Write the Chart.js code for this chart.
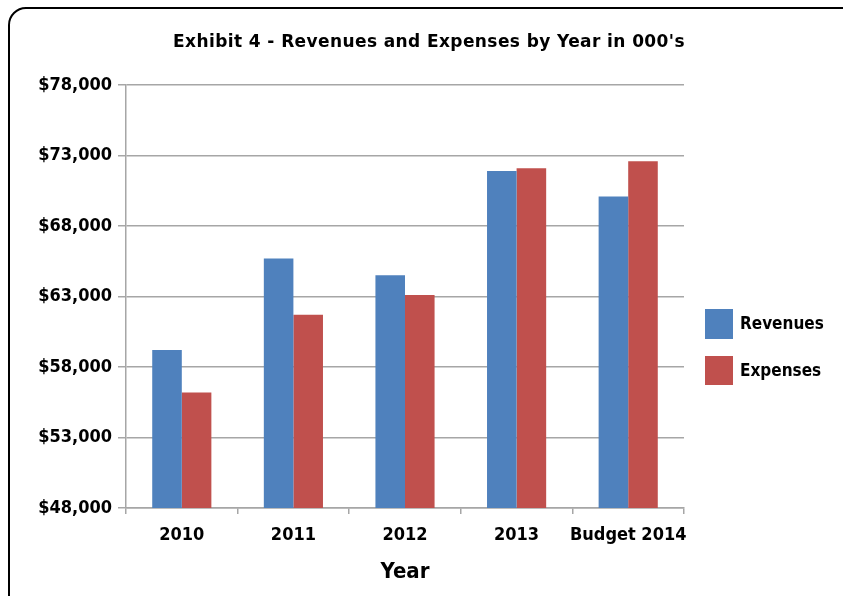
<!DOCTYPE html>
<html lang="en">
<head>
  <meta charset="UTF-8" />
  <title>Exhibit 4 - Revenues and Expenses by Year</title>
  <script src="https://cdn.jsdelivr.net/npm/chart.js"></script>
  <style>
    html, body { margin: 0; padding: 0; background: #fff; overflow: hidden; }
    #wrap { position: relative; width: 843px; height: 596px; }
    #frame { position: absolute; left: 8px; top: 7px; width: 860px; height: 620px;
             border: 2px solid #000; border-radius: 18px; pointer-events: none; }
    canvas { position: absolute; left: 0; top: 0; }
  </style>
</head>
<body>
<div id="wrap">
  <canvas id="chart" width="843" height="596"></canvas>
  <div id="frame"></div>
</div>
<script>
  const years = ['2010', '2011', '2012', '2013', 'Budget 2014'];
  const revenues = [59200, 65700, 64500, 71900, 70100];
  const expenses = [56200, 61700, 63100, 72100, 72600];
  const chartTitle = "Exhibit 4 - Revenues and Expenses by Year in 000's";

  const condensed = '"DejaVu Sans Condensed", "Liberation Sans", sans-serif';
  const labelFont = { family: condensed, size: 18, weight: 'bold' };

  // title and legend drawn by hand, to sit where the original ones are
  const extras = {
    id: 'extras',
    afterDraw(chart) {
      const ctx = chart.ctx;
      ctx.save();
      ctx.fillStyle = '#000';
      ctx.font = 'bold 17px "DejaVu Sans", sans-serif';
      ctx.letterSpacing = '0.4px';
      ctx.textAlign = 'center';
      ctx.textBaseline = 'middle';
      ctx.fillText(chartTitle, 429, 43);
      ctx.letterSpacing = '0px';

      const x = 705;
      const rows = [{ y: 309, h: 30 }, { y: 356, h: 29 }];
      chart.data.datasets.forEach((ds, i) => {
        const r = rows[i];
        ctx.fillStyle = ds.backgroundColor;
        ctx.fillRect(x, r.y, 28, r.h);
        ctx.fillStyle = '#000';
        ctx.font = 'bold 17px ' + condensed;
        ctx.textAlign = 'left';
        ctx.fillText(ds.label, x + 35, r.y + r.h / 2 + 1);
      });
      ctx.restore();
    }
  };

  new Chart(document.getElementById('chart'), {
    type: 'bar',
    data: {
      labels: years,
      datasets: [
        { label: 'Revenues', data: revenues, backgroundColor: '#4F81BD', categoryPercentage: 0.53, barPercentage: 1.0 },
        { label: 'Expenses', data: expenses, backgroundColor: '#C0504D', categoryPercentage: 0.53, barPercentage: 1.0 }
      ]
    },
    options: {
      responsive: false,
      animation: false,
      layout: { padding: { top: 85, right: 159, left: 10, bottom: 11 } },
      plugins: {
        legend: { display: false },
        tooltip: { enabled: false },
        title: { display: false }
      },
      scales: {
        x: {
          grid: { display: true, drawOnChartArea: false, offset: true, tickLength: 6, color: '#a6a6a6', lineWidth: 1.5 },
          border: { display: true, color: '#a6a6a6', width: 1.5 },
          ticks: { color: '#000', font: labelFont, padding: 11, maxRotation: 0, autoSkip: false },
          title: {
            display: true, text: 'Year', color: '#000',
            font: { family: condensed, size: 22, weight: 'bold' },
            padding: { top: 1, bottom: 0 }
          }
        },
        y: {
          min: 48000,
          max: 78000,
          afterFit(scale) { scale.width = 116; },
          grid: { color: '#a6a6a6', lineWidth: 1.5, tickLength: 8 },
          border: { display: true, color: '#a6a6a6', width: 1.5 },
          ticks: {
            stepSize: 5000,
            color: '#000',
            font: labelFont,
            padding: 6,
            callback: v => '$' + v.toLocaleString('en-US')
          }
        }
      }
    },
    plugins: [extras]
  });
</script>
</body>
</html>
